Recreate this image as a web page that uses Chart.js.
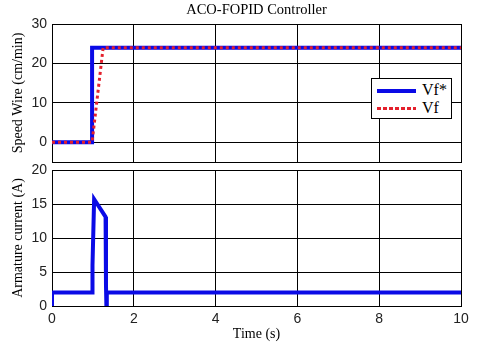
<!DOCTYPE html>
<html>
<head>
<meta charset="UTF-8">
<title>ACO-FOPID Controller</title>
<style>
    body { margin: 0; background: #fff; }
    #wrap { position: relative; width: 480px; height: 345px; }
    #top-chart { position: absolute; left: 0; top: 0; }
    #bottom-chart { position: absolute; left: 0; top: 158px; }
    #legend {
        position: absolute; left: 371px; top: 78px; width: 81px; height: 41px;
        border: 1px solid #000; background: #fff; box-sizing: border-box;
        font-family: "Liberation Serif", "Times New Roman", serif; font-size: 16px;
    }
    .row { position: absolute; left: 0; height: 18px; line-height: 18px; }
    .sw { position: absolute; left: 5px; width: 39px; }
    .lbl { position: absolute; left: 50px; }
</style>
<script src="https://cdn.jsdelivr.net/npm/chart.js@4.4.0/dist/chart.umd.min.js"></script>
</head>
<body>
<div id="wrap">
    <canvas id="top-chart" width="480" height="163"></canvas>
    <canvas id="bottom-chart" width="480" height="187"></canvas>
    <div id="legend">
        <div class="row" style="top:2px"><div class="sw" style="top:8px;height:4px;background:#0a0ae6"></div><span class="lbl">Vf*</span></div>
        <div class="row" style="top:20px"><div class="sw" style="top:8px;height:3px;background:repeating-linear-gradient(90deg,#e4202c 0 4px,transparent 4px 6px)"></div><span class="lbl">Vf</span></div>
    </div>
</div>
<script>
    // speed wire reference / actual
    var tRef = [0, 0.98, 0.98, 10];
    var vfRef = [0, 0, 24, 24];
    var tVf = [0, 0.98, 1.25, 10];
    var vf = [0, 0, 24, 24];

    // armature current
    var tCur = [0, 0, 0.98, 0.99, 1.03, 1.31, 1.32, 1.33, 1.34, 10];
    var cur = [0, 2, 2, 6, 15.7, 13.1, 3, 0, 2, 2];

    var xTicks = [0, 2, 4, 6, 8, 10];
    var yTicksTop = [0, 10, 20, 30];
    var yTicksBottom = [0, 5, 10, 15, 20];

    var sans = '"Liberation Sans", Arial, sans-serif';
    var serif = '"Liberation Serif", "Times New Roman", serif';

    function pts(xs, ys) {
        var out = [];
        for (var i = 0; i < xs.length; i++) out.push({x: xs[i], y: ys[i]});
        return out;
    }

    function fixTicks(list) {
        return function(axis) { axis.ticks = list.map(function(v) { return {value: v}; }); };
    }

    function xScale(showTicks) {
        return {
            type: 'linear', min: 0, max: 10,
            afterBuildTicks: fixTicks(xTicks),
            afterFit: function(s) { s.height = showTicks ? 39 : 0; s.paddingLeft = 0; s.paddingRight = 0; },
            grid: { color: '#000', lineWidth: 1, drawTicks: false },
            border: { color: '#000', width: 1 },
            ticks: { display: showTicks, padding: 5, color: '#222', font: {family: sans, size: 14} },
            title: { display: showTicks, text: 'Time (s)', color: '#000', padding: 2,
                     font: {family: serif, size: 14} }
        };
    }

    function yScale(min, max, list, label) {
        return {
            min: min, max: max,
            afterBuildTicks: fixTicks(list),
            afterFit: function(s) { s.width = 52; s.paddingTop = 0; s.paddingBottom = 0; },
            grid: { color: '#000', lineWidth: 1, drawTicks: false },
            border: { color: '#000', width: 1 },
            ticks: { padding: 5, color: '#222', font: {family: sans, size: 14} },
            title: { display: true, text: label, color: '#000', padding: {top: 10, bottom: 0},
                     font: {family: serif, size: 14} }
        };
    }

    // top axis only carries the figure title, centred on the plot area
    var titleAxis = {
        type: 'linear', position: 'top', min: 0, max: 10,
        afterFit: function(s) { s.height = 24; s.paddingLeft = 0; s.paddingRight = 0; },
        grid: { display: false, drawTicks: false },
        border: { display: false },
        ticks: { display: false },
        title: { display: true, text: 'ACO-FOPID Controller', color: '#000', padding: {top: 1, bottom: 0},
                 font: {family: serif, size: 14.5} }
    };

    new Chart(document.getElementById('top-chart'), {
        type: 'line',
        data: {
            datasets: [{
                label: 'Vf*', data: pts(tRef, vfRef), order: 2,
                borderColor: '#0a0ae6', borderWidth: 4, pointRadius: 0, tension: 0
            }, {
                label: 'Vf', data: pts(tVf, vf), order: 1,
                borderColor: '#e4202c', borderWidth: 3, borderDash: [3, 3], pointRadius: 0, tension: 0
            }]
        },
        options: {
            responsive: false, animation: false, devicePixelRatio: 1,
            layout: { padding: {left: 0, right: 19, top: 0, bottom: 1} },
            plugins: { legend: { display: false }, tooltip: { enabled: false } },
            scales: { x: xScale(false), xt: titleAxis, y: yScale(-5, 30, yTicksTop, 'Speed Wire (cm/min)') }
        }
    });

    new Chart(document.getElementById('bottom-chart'), {
        type: 'line',
        data: {
            datasets: [{
                label: 'Armature current', data: pts(tCur, cur),
                borderColor: '#0a0ae6', borderWidth: 4, pointRadius: 0, tension: 0
            }]
        },
        options: {
            responsive: false, animation: false, devicePixelRatio: 1,
            layout: { padding: {left: 0, right: 19, top: 12, bottom: 0} },
            plugins: { legend: { display: false }, tooltip: { enabled: false } },
            scales: { x: xScale(true), y: yScale(0, 20, yTicksBottom, 'Armature current (A)') }
        }
    });
</script>
</body>
</html>
